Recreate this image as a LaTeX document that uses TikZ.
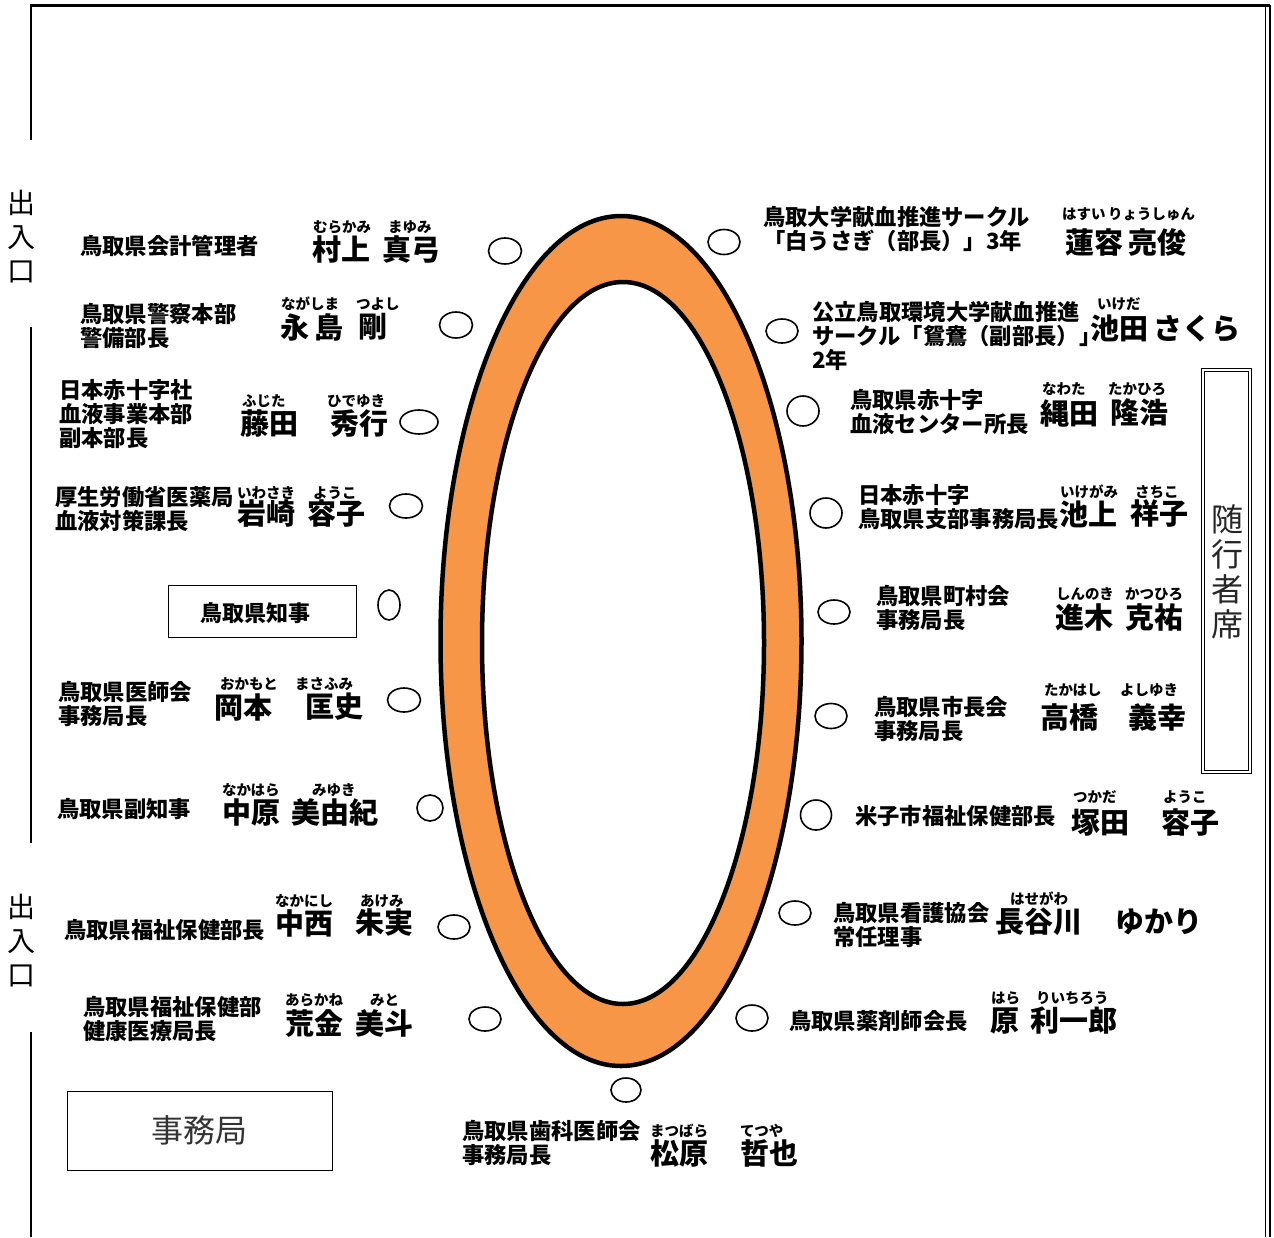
\documentclass[tikz,border=0pt]{standalone}
\usepackage{fontspec}
\setmainfont{Noto Sans CJK JP}
\usetikzlibrary{shapes.geometric}
\definecolor{tableorange}{HTML}{F79646}
\tikzset{
  org/.style={anchor=west, inner sep=0pt, align=left, font=\bfseries\fontsize{22.3}{23.8}\selectfont},
  nm/.style={anchor=west, inner sep=0pt, font=\bfseries\fontsize{29}{30}\selectfont},
  rb/.style={anchor=west, inner sep=0pt, font=\bfseries\fontsize{14.5}{15}\selectfont},
  seat/.style={draw, ellipse, line width=1.6pt, inner sep=0pt, minimum width=33pt, minimum height=26pt},
  wall/.style={line width=2pt},
  vtext/.style={inner sep=0pt, align=center, font=\fontsize{28}{34}\selectfont},
}
\begin{document}
\begin{tikzpicture}[x=1pt,y=-1pt]
\useasboundingbox (0,0) rectangle (1274,1237);
% frame
\draw[line width=3pt] (30,5) -- (1270,5);
\draw[wall] (31,5) -- (31,140);
\draw[wall] (31,327) -- (31,843);
\draw[wall] (31,1032) -- (31,1237);
\draw[line width=1.5pt] (1265.5,5) -- (1265.5,1237);
\draw[line width=1.5pt] (1270,5) -- (1270,1237);
\node[vtext] (door1) at (22,237) {出\\入\\口};
\node[vtext] (door2) at (22,941) {出\\入\\口};
% table
\node[ellipse, draw, line width=4.5pt, fill=tableorange, minimum width=361pt, minimum height=850pt, inner sep=0pt] (table) at (621,641) {};
\node[ellipse, draw, line width=4.5pt, fill=white, minimum width=282pt, minimum height=722pt, inner sep=0pt] (hole) at (623,643) {};
% boxes
\node[draw, line width=1pt, minimum width=188pt, minimum height=52pt, inner sep=0pt] (chiji) at (262,611) {};
\node[inner sep=0pt, font=\bfseries\fontsize{22}{24}\selectfont] (chijit) at (255,613) {鳥取県知事};
\node[draw, line width=1pt, minimum width=265pt, minimum height=79pt, inner sep=0pt, font=\fontsize{32}{36}\selectfont, text=black!80] (jimu) at (199.5,1130.5) {事務局};
\node[draw, double, double distance=1.5pt, line width=0.8pt, minimum width=47pt, minimum height=402pt, inner sep=0pt] (zuiko) at (1226.5,571) {};
\node[vtext, font=\fontsize{32}{35}\selectfont, text=black!85] (zuikot) at (1227,572) {随\\行\\者\\席};
% seats left
\node[seat] (sL1) at (505,251) {};
\node[seat] (sL2) at (456,325) {};
\node[seat, minimum width=38pt, minimum height=24pt] (sL3) at (419,422) {};
\node[seat, minimum height=24pt] (sL4) at (406,506) {};
\node[seat, minimum width=22pt, minimum height=30pt] (sL5) at (389,605) {};
\node[seat, minimum height=24pt] (sL6) at (404,700) {};
\node[seat, minimum width=26pt, minimum height=26pt] (sL7) at (430,808) {};
\node[seat, minimum width=32pt, minimum height=24pt] (sL8) at (454,927) {};
\node[seat, minimum width=32pt, minimum height=24pt] (sL9) at (485,1019) {};
\node[seat, minimum width=30pt, minimum height=24pt] (sB) at (626,1090) {};
% seats right
\node[seat, minimum width=32pt, minimum height=25pt] (sR1) at (724,242) {};
\node[seat, minimum width=32pt, minimum height=24pt] (sR2) at (782,331) {};
\node[seat, minimum width=32pt, minimum height=30pt] (sR3) at (803,411) {};
\node[seat, minimum width=32pt, minimum height=30pt] (sR4) at (826,513) {};
\node[seat, minimum width=32pt, minimum height=24pt] (sR5) at (834,612) {};
\node[seat, minimum width=32pt, minimum height=25pt] (sR6) at (831,716) {};
\node[seat, minimum width=31pt, minimum height=30pt] (sR7) at (816,815) {};
\node[seat, minimum width=32pt, minimum height=24pt] (sR8) at (795,913) {};
\node[seat, minimum width=32pt, minimum height=26pt] (sR9) at (752,1018) {};
% left entries
\node[org] (oL1) at (80,246) {鳥取県会計管理者};
\node[nm] (nL1a) at (312,249) {村上};
\node[nm] (nL1b) at (382,249) {真弓};
\node[rb] (rL1a) at (313,227) {むらかみ};
\node[rb] (rL1b) at (388,227) {まゆみ};

\node[org] (oL2) at (80,326) {鳥取県警察本部\\警備部長};
\node[nm] (nL2a) at (280,327) {永\,島};
\node[nm] (nL2b) at (358,327) {剛};
\node[rb] (rL2a) at (281,304) {ながしま};
\node[rb] (rL2b) at (356,304) {つよし};

\node[org] (oL3) at (59,414) {日本赤十字社\\血液事業本部\\副本部長};
\node[nm] (nL3a) at (240,424) {藤田};
\node[nm] (nL3b) at (330,424) {秀行};
\node[rb] (rL3a) at (242,401) {ふじた};
\node[rb] (rL3b) at (327,401) {ひでゆき};

\node[org] (oL4) at (55,509) {厚生労働省医薬局\\血液対策課長};
\node[nm] (nL4a) at (237,514) {岩崎};
\node[nm] (nL4b) at (307,514) {容子};
\node[rb] (rL4a) at (237,493) {いわさき};
\node[rb] (rL4b) at (313,493) {ようこ};

\node[org] (oL6) at (58,704) {鳥取県医師会\\事務局長};
\node[nm] (nL6a) at (214,707) {岡本};
\node[nm] (nL6b) at (305,707) {匡史};
\node[rb] (rL6a) at (220,684) {おかもと};
\node[rb] (rL6b) at (295,684) {まさふみ};

\node[org] (oL7) at (57,809) {鳥取県副知事};
\node[nm] (nL7a) at (222,812) {中原};
\node[nm] (nL7b) at (291,812) {美由紀};
\node[rb] (rL7a) at (222,790) {なかはら};
\node[rb] (rL7b) at (312,790) {みゆき};

\node[org] (oL8) at (64,930) {鳥取県福祉保健部長};
\node[nm] (nL8a) at (275,923) {中西};
\node[nm] (nL8b) at (355,923) {朱実};
\node[rb] (rL8a) at (275,901) {なかにし};
\node[rb] (rL8b) at (360,901) {あけみ};

\node[org] (oL9) at (83,1019) {鳥取県福祉保健部\\健康医療局長};
\node[nm] (nL9a) at (285,1023) {荒金};
\node[nm] (nL9b) at (355,1023) {美斗};
\node[rb] (rL9a) at (285,1000) {あらかね};
\node[rb] (rL9b) at (370,1000) {みと};

% bottom entry
\node[org] (oB) at (462,1143) {鳥取県歯科医師会\\事務局長};
\node[nm] (nBa) at (650,1153) {松原};
\node[nm] (nBb) at (740,1153) {哲也};
\node[rb] (rBa) at (650,1131) {まつばら};
\node[rb] (rBb) at (740,1131) {てつや};

% right entries
\node[org] (oR1) at (763,229) {鳥取大学献血推進サークル\\「白うさぎ（部長）」3年};
\node[nm] (nR1) at (1065,242) {蓮容\,亮俊};
\node[rb] (rR1) at (1062,214) {はすい\,りょうしゅん};

\node[org] (oR2) at (812,336) {公立鳥取環境大学献血推進\\サークル「鴛鴦（副部長）」\\2年};
\node[nm] (nR2) at (1090,329) {池田\,さくら};
\node[rb] (rR2) at (1097,304) {いけだ};

\node[org] (oR3) at (850,412) {鳥取県赤十字\\血液センター所長};
\node[nm] (nR3a) at (1040,413) {縄田};
\node[nm] (nR3b) at (1110,413) {隆浩};
\node[rb] (rR3a) at (1042,389) {なわた};
\node[rb] (rR3b) at (1108,389) {たかひろ};

\node[org] (oR4) at (858,507) {日本赤十字\\鳥取県支部事務局長};
\node[nm] (nR4a) at (1059,514) {池上};
\node[nm] (nR4b) at (1130,514) {祥子};
\node[rb] (rR4a) at (1060,492) {いけがみ};
\node[rb] (rR4b) at (1135,492) {さちこ};

\node[org] (oR5) at (876,608) {鳥取県町村会\\事務局長};
\node[nm] (nR5a) at (1055,617) {進木};
\node[nm] (nR5b) at (1125,617) {克祐};
\node[rb] (rR5a) at (1056,594) {しんのき};
\node[rb] (rR5b) at (1125,594) {かつひろ};

\node[org] (oR6) at (874,719) {鳥取県市長会\\事務局長};
\node[nm] (nR6a) at (1040,717) {高橋};
\node[nm] (nR6b) at (1128,717) {義幸};
\node[rb] (rR6a) at (1044,690) {たかはし};
\node[rb] (rR6b) at (1120,690) {よしゆき};

\node[org] (oR7) at (855,816) {米子市福祉保健部長};
\node[nm] (nR7a) at (1071,823) {塚田};
\node[nm] (nR7b) at (1161,823) {容子};
\node[rb] (rR7a) at (1073,797) {つかだ};
\node[rb] (rR7b) at (1163,797) {ようこ};

\node[org] (oR8) at (833,925) {鳥取県看護協会\\常任理事};
\node[nm] (nR8a) at (995,922) {長谷川};
\node[nm] (nR8b) at (1115,922) {ゆかり};
\node[rb] (rR8a) at (1010,899) {はせがわ};

\node[org] (oR9) at (789,1021) {鳥取県薬剤師会長};
\node[nm] (nR9a) at (990,1021) {原};
\node[nm] (nR9b) at (1030,1021) {利一郎};
\node[rb] (rR9a) at (991,998) {はら};
\node[rb] (rR9b) at (1036,998) {りいちろう};
\end{tikzpicture}
\end{document}
